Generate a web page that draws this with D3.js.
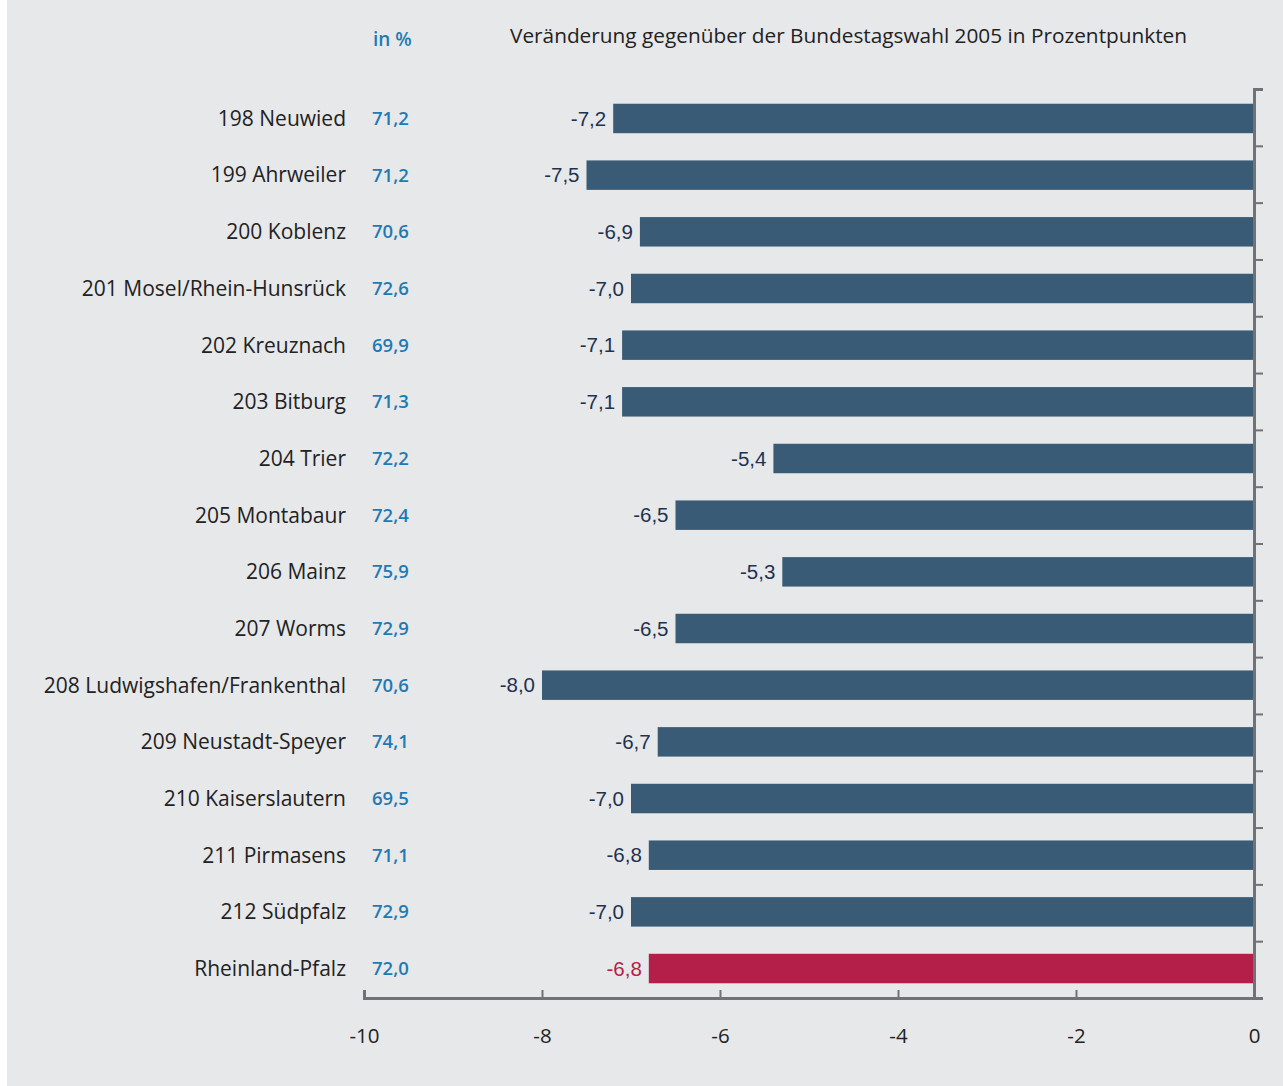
<!DOCTYPE html>
<html>
<head>
<meta charset="utf-8">
<script src="https://cdn.jsdelivr.net/npm/d3@7"></script>
<style>
  html, body { margin: 0; padding: 0; background: #fff; }
  svg { display: block; }
</style>
</head>
<body>
<svg id="chart"></svg>
<script>
// Wahlkreise Rheinland-Pfalz, Wahlbeteiligung 2009 und Veränderung zu 2005
const wahlkreise = ["198 Neuwied", "199 Ahrweiler", "200 Koblenz", "201 Mosel/Rhein-Hunsrück",
  "202 Kreuznach", "203 Bitburg", "204 Trier", "205 Montabaur", "206 Mainz", "207 Worms",
  "208 Ludwigshafen/Frankenthal", "209 Neustadt-Speyer", "210 Kaiserslautern", "211 Pirmasens",
  "212 Südpfalz", "Rheinland-Pfalz"]
const beteiligung = [71.2, 71.2, 70.6, 72.6, 69.9, 71.3, 72.2, 72.4, 75.9, 72.9, 70.6, 74.1, 69.5, 71.1, 72.9, 72.0]
const veraenderung = [-7.2, -7.5, -6.9, -7.0, -7.1, -7.1, -5.4, -6.5, -5.3, -6.5, -8.0, -6.7, -7.0, -6.8, -7.0, -6.8]
const xTicks = [-10, -8, -6, -4, -2, 0]

const width = 1283, height = 1086
const fmt = v => d3.format(".1f")(v).replace(".", ",").replace("−", "-")

const svg = d3.select("#chart")
    .attr("width", width)
    .attr("height", height)

svg.append("rect")
    .attr("x", 7).attr("y", 0)
    .attr("width", width - 7).attr("height", height)
    .attr("fill", "#e7e8ea")

const x = d3.scaleLinear().domain([-10, 0]).range([364, 1254])
const y = d3.scaleBand().domain(wahlkreise).range([89, 998]).paddingInner(0.48).paddingOuter(0.26)

const rows = wahlkreise.map((name, i) => ({ name, pct: beteiligung[i], diff: veraenderung[i], total: i === wahlkreise.length - 1 }))

// headers
svg.append("text")
    .attr("x", 373).attr("y", 46)
    .attr("fill", "#1f7ab3")
    .style("font", "600 19px 'Open Sans', sans-serif")
    .text("in %")
svg.append("text")
    .attr("x", 510).attr("y", 43)
    .attr("fill", "#222")
    .style("font", "20.8px 'Open Sans', sans-serif")
    .text("Veränderung gegenüber der Bundestagswahl 2005 in Prozentpunkten")

// bars
svg.append("g")
  .selectAll("rect")
  .data(rows)
  .join("rect")
    .attr("x", d => x(d.diff))
    .attr("y", d => y(d.name))
    .attr("width", d => x(0) - x(d.diff))
    .attr("height", y.bandwidth())
    .attr("fill", d => d.total ? "#b31f48" : "#3a5b75")

// value labels at bars
svg.append("g")
  .selectAll("text")
  .data(rows)
  .join("text")
    .attr("x", d => x(d.diff) - 7)
    .attr("y", d => y(d.name) + y.bandwidth() / 2)
    .attr("dy", "0.35em")
    .attr("text-anchor", "end")
    .attr("fill", d => d.total ? "#b31f48" : "#1e3250")
    .style("font", "20.5px 'Liberation Sans', Arial, sans-serif")
    .text(d => fmt(d.diff))

// names
svg.append("g")
  .selectAll("text")
  .data(rows)
  .join("text")
    .attr("x", 346)
    .attr("y", d => y(d.name) + y.bandwidth() / 2)
    .attr("dy", "0.35em")
    .attr("text-anchor", "end")
    .attr("fill", "#222")
    .style("font", "21px 'Open Sans', sans-serif")
    .text(d => d.name)

// turnout
svg.append("g")
  .selectAll("text")
  .data(rows)
  .join("text")
    .attr("x", 372)
    .attr("y", d => y(d.name) + y.bandwidth() / 2)
    .attr("dy", "0.35em")
    .attr("fill", "#1f7ab3")
    .style("font", "600 18.5px 'Open Sans', sans-serif")
    .text(d => fmt(d.pct))

// bottom axis
const xAxis = svg.append("g")
    .attr("transform", "translate(0,998)")
    .call(d3.axisBottom(x).tickValues(xTicks).tickSize(-8).tickPadding(30).tickFormat(d => String(d)))
xAxis.select(".domain").attr("stroke", "#6f7277").attr("stroke-width", 3)
xAxis.selectAll(".tick line").attr("stroke", "#6f7277").attr("stroke-width", 2)
xAxis.selectAll(".tick text")
    .attr("fill", "#222")
    .style("font", "20.5px 'Open Sans', sans-serif")

// right vertical axis with ticks between rows
const yEdge = d3.scaleLinear().domain([0, wahlkreise.length]).range([89, 998])
const yAxis = svg.append("g")
    .attr("transform", `translate(${x(0)},0)`)
    .call(d3.axisRight(yEdge).tickValues(d3.range(wahlkreise.length + 1)).tickSize(9).tickFormat(""))
yAxis.select(".domain").attr("stroke", "#6f7277").attr("stroke-width", 3)
yAxis.selectAll(".tick line").attr("stroke", "#6f7277").attr("stroke-width", 2)
</script>
</body>
</html>
